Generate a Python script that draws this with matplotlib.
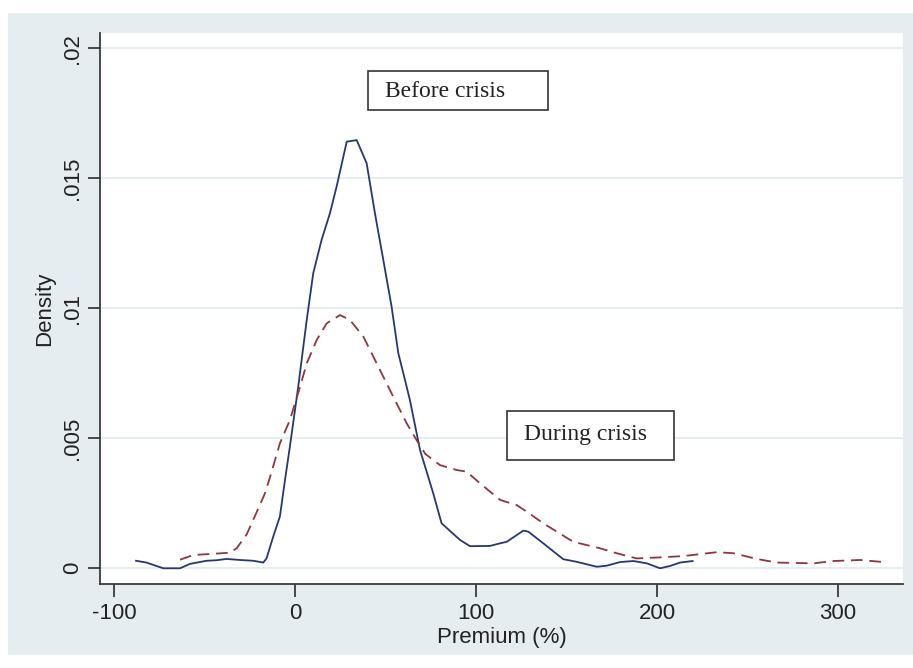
import matplotlib
matplotlib.use("Agg")
import matplotlib.pyplot as plt
from matplotlib.patches import Rectangle

# Kernel density of premium
before_x = [-87.8, -82, -72.7, -63.5, -58, -48.8, -43.3, -37.8, -30.4, -23, -17.5, -15.7,
            -12, -8.3, -5.5, -2.8, 1.8, 6.5, 10.1, 14.7, 19.3, 23, 28.6, 34.1, 39.6,
            44.2, 48.8, 53.4, 57.1, 60.8, 63.5, 69.1, 76.4, 81, 91.2, 96.7, 107.7,
            113.3, 117, 126.2, 128.9, 137.2, 148.2, 155.6, 166.7, 172.2, 179.6, 187,
            194.4, 201.7, 207.2, 212.7, 219.7]
before_y = [0.00029, 0.00022, 0.0, 0.0, 0.00017, 0.00029, 0.00031, 0.00036, 0.00032,
            0.00029, 0.00022, 0.00038, 0.00122, 0.00200, 0.0034, 0.00468, 0.00698,
            0.00955, 0.01135, 0.01263, 0.01365, 0.01468, 0.01641, 0.01647, 0.01558,
            0.01365, 0.01186, 0.01006, 0.00827, 0.00724, 0.00647, 0.00455, 0.00288,
            0.00173, 0.00109, 0.00085, 0.00086, 0.00096, 0.00102, 0.00145, 0.00141,
            0.00096, 0.00035, 0.00025, 0.00006, 0.0001, 0.00024, 0.00028, 0.00019,
            0.0, 0.00009, 0.00022, 0.00028]

during_x = [-63.5, -56.2, -47, -35.9, -32.2, -26.7, -21.2, -16.6, -13.8, -8.3, -2.8,
            2.8, 6.5, 12, 17.5, 24.9, 30.4, 37.8, 43.3, 48.8, 54.3, 61.7, 67.2, 72,
            80.1, 89.3, 94.8, 102.2, 113.3, 122.5, 128, 137.2, 153.7, 168.5, 177.7,
            188.7, 201.7, 214.6, 233, 242.2, 255.1, 266.2, 286.4, 297.5, 312.2, 325.1]
during_y = [0.00033, 0.00051, 0.00055, 0.0006, 0.00077, 0.0013, 0.00215, 0.00288,
            0.0035, 0.00481, 0.0057, 0.00698, 0.00788, 0.00878, 0.00942, 0.00974,
            0.00955, 0.00891, 0.00814, 0.00737, 0.0066, 0.00558, 0.00493, 0.0044,
            0.00397, 0.00378, 0.00372, 0.00327, 0.00263, 0.00243, 0.00218, 0.00173,
            0.00102, 0.00077, 0.00058, 0.00038, 0.00042, 0.00047, 0.00062, 0.00058,
            0.00036, 0.00022, 0.00019, 0.00028, 0.00032, 0.00024]

xticks = [-100, 0, 100, 200, 300]
yticks = [0, 0.005, 0.01, 0.015, 0.02]
ytick_labels = ['0', '.005', '.01', '.015', '.02']

bg = '#e6edf0'
axcol = '#3a3a3a'

fig = plt.figure(figsize=(9.13, 6.68), dpi=100)
fig.patch.set_facecolor('white')

# graph region background
bgax = fig.add_axes([8/913, 13/668, 1 - 8/913, (655 - 13)/668], zorder=-5)
bgax.set_facecolor(bg)
bgax.set_xticks([])
bgax.set_yticks([])
for s in bgax.spines.values():
    s.set_visible(False)

ax = fig.add_axes([100/913, 1 - 584/668, 803/913, 551/668], zorder=1)
ax.set_facecolor('white')

for t in yticks:
    ax.axhline(t, color='#e3ecef', lw=1.3, zorder=1)

ax.plot(before_x, before_y, color='#26386f', lw=1.3, zorder=3)
ax.plot(during_x, during_y, color='#90353b', lw=1.3, linestyle=(0, (6.5, 3.7)), zorder=3)

ax.set_xlim(-107.7, 335.9)
ax.set_ylim(-0.000604, 0.02059)

ax.set_xticks(xticks)
ax.set_xticklabels([str(v) for v in xticks])
ax.set_yticks(yticks)
ax.set_yticklabels(ytick_labels, rotation=90, va='center')

for s in ['top', 'right']:
    ax.spines[s].set_visible(False)
for s in ['left', 'bottom']:
    ax.spines[s].set_color(axcol)
    ax.spines[s].set_linewidth(1.3)

ax.tick_params(axis='both', colors=axcol, length=9, width=1.3,
               labelsize=16, labelcolor='#222222')
ax.tick_params(axis='x', pad=5)
ax.tick_params(axis='y', pad=3)
for lab in ax.get_xticklabels() + ax.get_yticklabels():
    lab.set_family('Liberation Sans')

ax.set_xlabel('Premium (%)', fontsize=16, family='Liberation Sans', color='#222222', labelpad=2)
ax.set_ylabel('Density', fontsize=16, family='Liberation Sans', color='#222222', labelpad=5)

# annotation boxes
ax.add_patch(Rectangle((40.3, 0.01762), 99.5, 0.00151, facecolor='white',
                       edgecolor='#333333', lw=1.2, zorder=4))
ax.text(49.7, 0.01834, 'Before crisis', family='Liberation Serif', fontsize=17,
        va='center', ha='left', color='#222222', zorder=5)

ax.add_patch(Rectangle((117.1, 0.00417), 92.3, 0.00188, facecolor='white',
                       edgecolor='#333333', lw=1.2, zorder=4))
ax.text(126.5, 0.00513, 'During crisis', family='Liberation Serif', fontsize=17,
        va='center', ha='left', color='#222222', zorder=5)

fig.savefig('out.png', dpi=100, facecolor=fig.get_facecolor())
